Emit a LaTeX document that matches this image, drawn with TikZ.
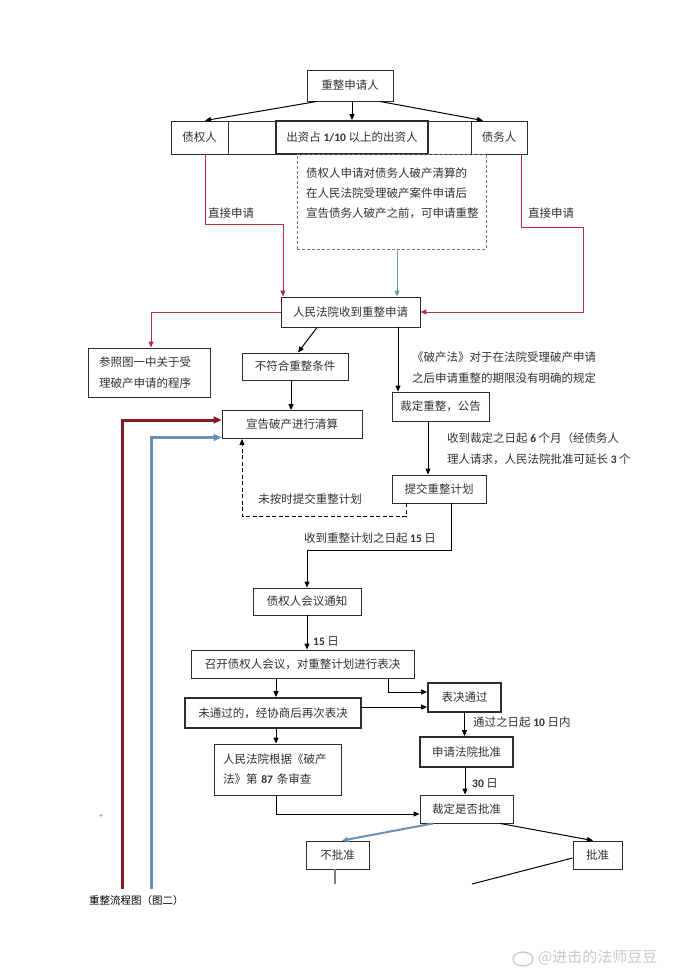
\documentclass[tikz,border=0pt]{standalone}
\usepackage{fontspec}
\setmainfont{Noto Sans CJK SC}
\newfontfamily\digfont{Carlito}
\usetikzlibrary{arrows.meta}
\definecolor{boxc}{RGB}{45,45,45}
\definecolor{txtc}{RGB}{50,50,50}
\definecolor{redl}{RGB}{175,50,65}
\definecolor{darkred}{RGB}{135,25,35}
\definecolor{bluel}{RGB}{105,145,185}
\definecolor{teall}{RGB}{110,160,150}
\definecolor{dashc}{RGB}{120,120,120}
\definecolor{wm}{RGB}{200,200,200}
\newcommand\dg[1]{{\digfont\bfseries #1}}
\begin{document}
\begin{tikzpicture}[x=1pt,y=-1pt,
  every node/.style={font=\fontsize{11.5}{21}\selectfont, text=txtc, inner sep=0pt},
  cbox/.style={draw=boxc, line width=0.9pt, rectangle},
  thickbox/.style={cbox, line width=1.8pt},
  arr/.style={-{Triangle[length=6pt,width=5pt]}, line width=1pt, draw=black},
  bigarr/.style={-{Triangle[length=8pt,width=7pt]}, line width=3pt},
  lbl/.style={anchor=west}]
\useasboundingbox[fill=white] (0,0) rectangle (690,976);

% top
\node[cbox, minimum width=86, minimum height=31] (req) at (350,85.5) {重整申请人};
\draw[boxc, line width=0.9pt] (171,121) rectangle (527,154);
\node[cbox, minimum width=57, minimum height=33] (cred) at (199.5,137.5) {债权人};
\node[thickbox, minimum width=152, minimum height=33] (inv) at (352,137.5) {出资占 \dg{1/10} 以上的出资人};
\node[cbox, minimum width=56, minimum height=33] (debt) at (499,137.5) {债务人};
\draw[arr] ([xshift=-33pt]req.south) -- ([xshift=5.5pt]cred.north);
\draw[arr] (inv.north |- req.south) -- (inv.north);
\draw[arr] ([xshift=30pt]req.south) -- ([xshift=-16pt]debt.north);

\node[draw=dashc, dash pattern=on 3pt off 2pt, line width=0.9pt, minimum width=189, minimum height=95] (note) at (391.5,201.5) {};
\node[anchor=west, align=left, font=\fontsize{11.5}{20}\selectfont] (notetxt) at (306,193) {债权人申请对债务人破产清算的\\在人民法院受理破产案件申请后\\宣告债务人破产之前，可申请重整};

\node[cbox, minimum width=139, minimum height=30] (court) at (350.5,312) {人民法院收到重整申请};
\draw[arr, teall] ([xshift=5.5pt]note.south) -- ([xshift=5.5pt]note.south |- court.north);
\draw[arr, redl] ([xshift=5.5pt]cred.south) -- ++(0,70) -| ([xshift=-67.5pt]court.north);
\node[lbl] (lblA) at (208,213) {直接申请};
\draw[arr, redl] ([xshift=22pt]debt.south) |- (583,228) |- (court.east);
\node[lbl] (lblB) at (528,213) {直接申请};

% middle
\node[cbox, minimum width=122, minimum height=49, text width=100, inner xsep=11pt, align=left] (ref) at (149,372.5) {参照图一中关于受\\理破产申请的程序};
\draw[arr, redl] (court.west) -| ([xshift=2pt]ref.north);
\node[cbox, minimum width=106, minimum height=27] (unfit) at (295,366.5) {不符合重整条件};
\draw[arr] ([xshift=-33.5pt]court.south) -- ([xshift=3pt]unfit.north);
\node[cbox, minimum width=140, minimum height=28] (liq) at (292,424.5) {宣告破产进行清算};
\draw[arr] ([xshift=-4pt]unfit.south) -- ([xshift=-4pt]unfit.south |- liq.north);

\node[anchor=west, align=left] (lawtxt) at (412,367.5) {《破产法》对于在法院受理破产申请\\之后申请重整的期限没有明确的规定};
\node[cbox, minimum width=97, minimum height=29] (rul) at (440.5,406.5) {裁定重整，公告};
\draw[arr] ([xshift=47.5pt]court.south) -- ([xshift=47.5pt]court.south |- rul.north);

\node[anchor=west, align=left] (sixm) at (447,448.5) {收到裁定之日起 \dg{6} 个月（经债务人\\理人请求，人民法院批准可延长 \dg{3} 个};
\node[cbox, minimum width=94, minimum height=28] (submit) at (439,489) {提交重整计划};
\draw[arr] ([xshift=-12.5pt]rul.south) -- ([xshift=-12.5pt]rul.south |- submit.north);

\draw[arr, dash pattern=on 4pt off 2.5pt] ([xshift=-33pt]submit.south) -- ++(0,13) -| ([xshift=-50pt]liq.south);
\node (lblC) at (310,499) {未按时提交重整计划};

\node[cbox, minimum width=108, minimum height=27] (notice) at (307,601.5) {债权人会议通知};
\draw[arr] ([xshift=12pt]submit.south) -- ++(0,47) -| (notice.north);
\node (lblD) at (370,538) {收到重整计划之日起 \dg{15} 日};

% lower
\node[cbox, minimum width=223, minimum height=28] (vote) at (302.5,664) {召开债权人会议，对重整计划进行表决};
\draw[arr] (notice.south) -- (notice.south |- vote.north);
\node[lbl] (lblE) at (313,641) {\dg{15} 日};

\node[thickbox, minimum width=73, minimum height=29] (passed) at (464.5,697.5) {表决通过};
\node[thickbox, minimum width=176, minimum height=30] (failed) at (273,713) {未通过的，经协商后再次表决};
\draw[arr] ([xshift=-26.5pt]vote.south) -- ([xshift=-26.5pt]vote.south |- failed.north);
\draw[arr] ([xshift=85.5pt]vote.south) |- ([yshift=5.5pt]passed.west);
\draw[arr] ([yshift=6pt]failed.east) -- ([yshift=6pt]failed.east -| passed.west);

\node[cbox, minimum width=127, minimum height=51, text width=109, inner xsep=9pt, align=left, font=\fontsize{11.5}{20}\selectfont] (review) at (277.5,769.5) {人民法院根据《破产\\法》第 \dg{87} 条审查};
\draw[arr] ([xshift=3pt]failed.south) -- ([xshift=3pt]failed.south |- review.north);

\node[thickbox, minimum width=93, minimum height=30] (apply) at (466.5,752) {申请法院批准};
\draw[arr] (passed.south) -- (passed.south |- apply.north);
\node[lbl] (lblF) at (473,722) {通过之日起 \dg{10} 日内};

\node[cbox, minimum width=93, minimum height=28] (decide) at (466.5,809) {裁定是否批准};
\draw[arr] ([xshift=-1.5pt]apply.south) -- ([xshift=-1.5pt]apply.south |- decide.north);
\node[lbl] (lblG) at (472,783) {\dg{30} 日};
\draw[arr] ([xshift=-1.5pt]review.south) |- ([yshift=-5pt]decide.west);

\node[cbox, minimum width=63, minimum height=28] (no) at (337.5,855) {不批准};
\node[cbox, minimum width=49, minimum height=28] (yes) at (597.5,855) {批准};
\draw[arr, bluel, line width=2pt] ([xshift=-33.5pt]decide.south) -- ([xshift=4.5pt]no.north);
\draw[arr] ([xshift=33.5pt]decide.south) -- ([xshift=-4.5pt]yes.north);
\coordinate (nostub) at (335,884);
\draw[gray, line width=2pt] (no.south -| nostub) -- (nostub);
\coordinate (yesend) at (472,884);
\draw[black, line width=1pt] ([yshift=-3pt]yes.west) -- (yesend);

% long side lines
\coordinate (redend) at (122,889);
\draw[bigarr, darkred] (redend) |- ([yshift=4.5pt]liq.west);
\coordinate (blueend) at (151,889);
\draw[bigarr, bluel] (blueend) |- ([yshift=-13pt]liq.west);

\node[anchor=west, font=\fontsize{10.5}{12}\selectfont, text=black] (cap) at (89,900) {重整流程图（图二）};
\node[font=\fontsize{7}{8}\selectfont, text=gray] (mark) at (101,816) {+};

% watermark
\draw[wm, line width=1.3pt] (523,959) ellipse (10 and 7);
\node[anchor=west, text=wm, font=\fontsize{15}{16}\selectfont] (wmk) at (538,957) {@进击的法师豆豆};
\end{tikzpicture}
\end{document}
